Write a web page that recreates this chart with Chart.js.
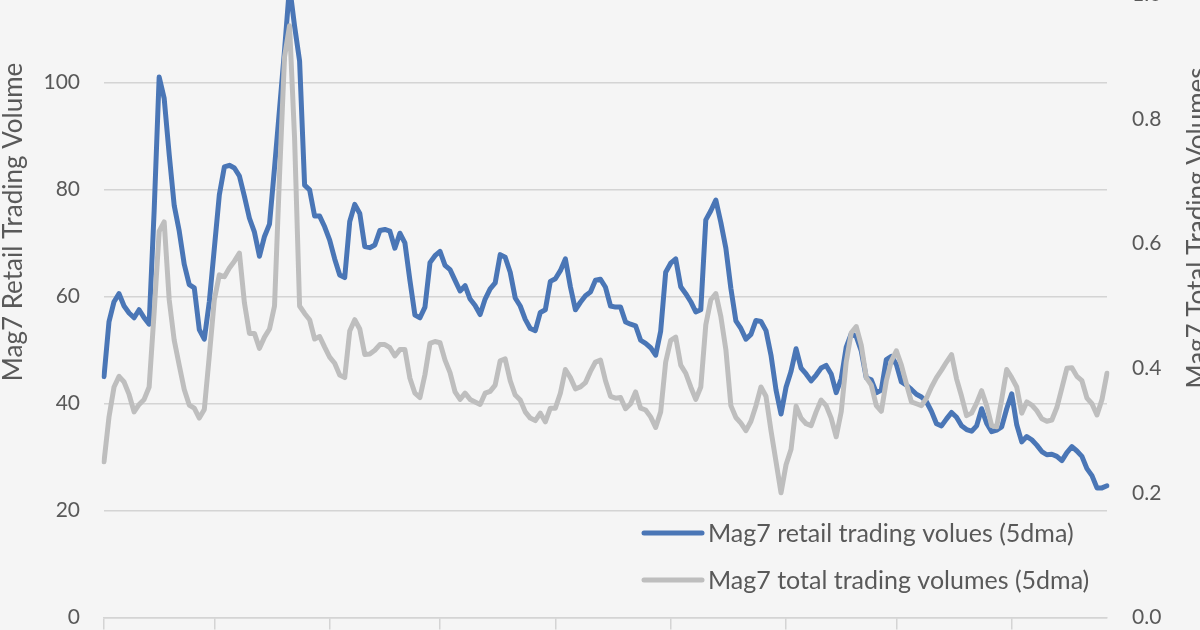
<!DOCTYPE html>
<html>
<head>
<meta charset="utf-8">
<title>Mag7 retail vs total trading volumes</title>
<script src="https://cdn.jsdelivr.net/npm/chart.js@4.4.1/dist/chart.umd.min.js"></script>
<style>
  html, body { margin: 0; padding: 0; background: #f5f5f5; overflow: hidden; }
  #wrap { position: absolute; left: 0; top: -20px; width: 1200px; height: 652px; }
</style>
</head>
<body>
<div id="wrap"><canvas id="chart"></canvas></div>
<script>
// Mag7 retail trading volume (left axis), 5 day moving average
const retail = [
  45, 55.3, 59, 60.5, 58.2, 56.9, 56, 57.5, 56, 54.8,
  76, 101, 97, 86.5, 77, 72.2, 66, 62.2, 61.6, 53.8,
  52, 59, 69, 79, 84.2, 84.5, 84, 82.5, 78.7, 74.6,
  72, 67.5, 71.2, 73.5, 84, 95, 106, 118, 110.5, 104,
  80.8, 79.9, 75, 75, 73, 70.5, 67, 64, 63.5, 74,
  77.2, 75.5, 69.3, 69.1, 69.6, 72.3, 72.5, 72.2, 69, 71.8,
  70, 63, 56.5, 56, 58, 66.3, 67.6, 68.4, 65.8, 65,
  63, 61, 62, 59.5, 58.3, 56.6, 59.5, 61.4, 62.5, 67.8,
  67.3, 64.5, 59.7, 58.2, 55.7, 54, 53.6, 57, 57.5, 62.8,
  63.3, 64.8, 67, 61.8, 57.5, 58.9, 60.1, 60.8, 63, 63.2,
  61.7, 58.2, 58, 58, 55.2, 54.8, 54.5, 51.8, 51.2, 50.4,
  49, 53.5, 64.5, 66.2, 67, 61.8, 60.5, 59, 57.1, 57.5,
  74.3, 76, 78, 73.8, 69, 61.5, 55.4, 54, 52, 52.9,
  55.5, 55.3, 53.6, 49, 42.5, 38, 43, 46, 50.2, 46.6,
  45.5, 44.2, 45.3, 46.6, 47.1, 45.5, 42, 44.6, 50.5, 53,
  52.5, 49.8, 44.8, 44.4, 42, 42.5, 48.2, 48.8, 47.3, 44,
  43.4, 42.6, 41.7, 41.2, 40.3, 38.5, 36.2, 35.8, 37.1, 38.3,
  37.4, 35.8, 35.1, 34.8, 35.8, 39, 36.3, 34.7, 35, 35.6,
  39, 41.8, 36, 32.8, 33.8, 33.2, 32.2, 31, 30.4, 30.5,
  30.1, 29.3, 30.8, 31.9, 31.1, 30.1, 27.8, 26.5, 24.2, 24.2,
  24.6
];

// Mag7 total trading volume (right axis), 5 day moving average
const total = [
  0.25, 0.322, 0.37, 0.387, 0.378, 0.358, 0.33, 0.342, 0.35, 0.37,
  0.49, 0.62, 0.635, 0.51, 0.445, 0.405, 0.366, 0.341, 0.336, 0.32,
  0.334, 0.42, 0.51, 0.55, 0.547, 0.561, 0.572, 0.585, 0.505, 0.456,
  0.456, 0.432, 0.45, 0.463, 0.5, 0.71, 0.9, 0.95, 0.77, 0.5,
  0.488, 0.478, 0.447, 0.451, 0.434, 0.418, 0.408, 0.389, 0.385, 0.46,
  0.478, 0.463, 0.422, 0.423, 0.429, 0.438, 0.438, 0.433, 0.42, 0.43,
  0.43, 0.384, 0.36, 0.353, 0.39, 0.44, 0.443, 0.441, 0.413, 0.393,
  0.362, 0.35, 0.36, 0.35, 0.346, 0.342, 0.36, 0.363, 0.373, 0.412,
  0.415, 0.38, 0.357, 0.349, 0.33, 0.32, 0.316, 0.328, 0.314, 0.336,
  0.336, 0.36, 0.398, 0.385, 0.367, 0.37, 0.377, 0.395, 0.41, 0.413,
  0.38, 0.355, 0.352, 0.353, 0.335, 0.343, 0.362, 0.336, 0.333, 0.322,
  0.305, 0.33, 0.41, 0.445, 0.45, 0.405, 0.392, 0.37, 0.35, 0.37,
  0.47, 0.51, 0.52, 0.483, 0.43, 0.34, 0.321, 0.312, 0.3, 0.315,
  0.34, 0.37, 0.355, 0.3, 0.25, 0.2, 0.245, 0.27, 0.339, 0.32,
  0.311, 0.308, 0.33, 0.349, 0.34, 0.32, 0.29, 0.33, 0.41, 0.457,
  0.467, 0.437, 0.385, 0.373, 0.34, 0.331, 0.38, 0.412, 0.428, 0.405,
  0.375, 0.346, 0.343, 0.34, 0.352, 0.37, 0.385, 0.397, 0.41, 0.422,
  0.383, 0.355, 0.324, 0.328, 0.344, 0.364, 0.34, 0.308, 0.306, 0.35,
  0.398, 0.385, 0.37, 0.328, 0.346, 0.341, 0.332, 0.319, 0.315, 0.317,
  0.337, 0.368, 0.4, 0.401, 0.387, 0.38, 0.352, 0.343, 0.325, 0.35,
  0.392
];

// positions (point index) of the quarter tick marks on the x axis
const quarterTicks = [0, 22, 45, 67, 90, 113, 136, 158, 181];
const leftTicks = [0, 20, 40, 60, 80, 100];
const rightTicks = [0, 0.2, 0.4, 0.6, 0.8, 1.0];
const seriesNames = ['Mag7 retail trading volues (5dma)', 'Mag7 total trading volumes (5dma)'];
const axisTitles = ['Mag7 Retail Trading Volume', 'Mag7 Total Trading Volumes'];

const labels = retail.map((_, i) => String(i));
const textColor = '#595959';
const gridColor = '#d4d4d4';
const blue = '#4a76b6';
const grey = '#bebebe';

// axis titles (both read bottom to top) and the legend inside the plot
const extras = {
    id: 'extras',
    afterDraw(chart) {
        const ctx = chart.ctx;
        ctx.save();
        ctx.fillStyle = textColor;
        ctx.font = '26px Lato';
        ctx.textAlign = 'center';
        ctx.textBaseline = 'middle';
        [[14, 242, axisTitles[0]], [1198, 248, axisTitles[1]]].forEach(([x, y, t]) => {
            ctx.save();
            ctx.translate(x, y);
            ctx.rotate(-Math.PI / 2);
            ctx.fillText(t, 0, 0);
            ctx.restore();
        });

        ctx.font = '25px Lato';
        ctx.textAlign = 'left';
        ctx.textBaseline = 'alphabetic';
        chart.data.datasets.forEach((ds, i) => {
            const y = 553 + i * 47;
            ctx.strokeStyle = ds.borderColor;
            ctx.lineWidth = 5;
            ctx.lineCap = 'round';
            ctx.beginPath();
            ctx.moveTo(644, y);
            ctx.lineTo(702, y);
            ctx.stroke();
            ctx.fillText(ds.label, 708, y + 9);
        });
        ctx.restore();
    }
};

const ctx = document.getElementById('chart').getContext('2d');
const chart = new Chart(ctx, {
    type: 'line',
    data: {
        labels: labels,
        datasets: [{
            label: seriesNames[0],
            data: retail,
            yAxisID: 'y',
            borderColor: blue,
            borderWidth: 5,
            order: 1
        }, {
            label: seriesNames[1],
            data: total,
            yAxisID: 'y2',
            borderColor: grey,
            borderWidth: 5,
            order: 0
        }]
    },
    options: {
        responsive: true,
        maintainAspectRatio: false,
        animation: false,
        layout: { padding: { top: 12, left: 0, right: 0, bottom: 0 } },
        elements: {
            point: { radius: 0 },
            line: { tension: 0, borderJoinStyle: 'round', borderCapStyle: 'round' }
        },
        plugins: {
            legend: { display: false },
            tooltip: { enabled: false }
        },
        scales: {
            x: {
                offset: false,
                ticks: { display: false },
                grid: {
                    drawOnChartArea: false,
                    drawTicks: true,
                    tickLength: 12,
                    lineWidth: 1.5,
                    color: c => quarterTicks.includes(c.index) ? gridColor : 'rgba(0,0,0,0)'
                },
                border: { display: true, color: gridColor, width: 1.5 },
                afterFit: s => { s.height = 13; }
            },
            y: {
                position: 'left',
                min: 0,
                max: 116.4,
                afterBuildTicks: s => { s.ticks = leftTicks.map(v => ({ value: v })); },
                ticks: { color: textColor, font: { family: 'Lato', size: 21 }, padding: 2 },
                grid: {
                    color: gridColor,
                    lineWidth: 1.5,
                    drawTicks: true,
                    tickLength: 22,
                    tickColor: 'rgba(0,0,0,0)'
                },
                border: { display: false },
                afterFit: s => { s.width = 104; }
            },
            y2: {
                position: 'right',
                min: 0,
                max: 1.0,
                afterBuildTicks: s => { s.ticks = rightTicks.map(v => ({ value: v })); },
                ticks: {
                    color: textColor,
                    font: { family: 'Lato', size: 21 },
                    padding: 2,
                    callback: v => v.toFixed(1)
                },
                grid: {
                    drawOnChartArea: false,
                    drawTicks: true,
                    tickLength: 23,
                    tickColor: 'rgba(0,0,0,0)'
                },
                border: { display: false },
                afterFit: s => { s.width = 93; }
            }
        }
    },
    plugins: [extras]
});
</script>
</body>
</html>
